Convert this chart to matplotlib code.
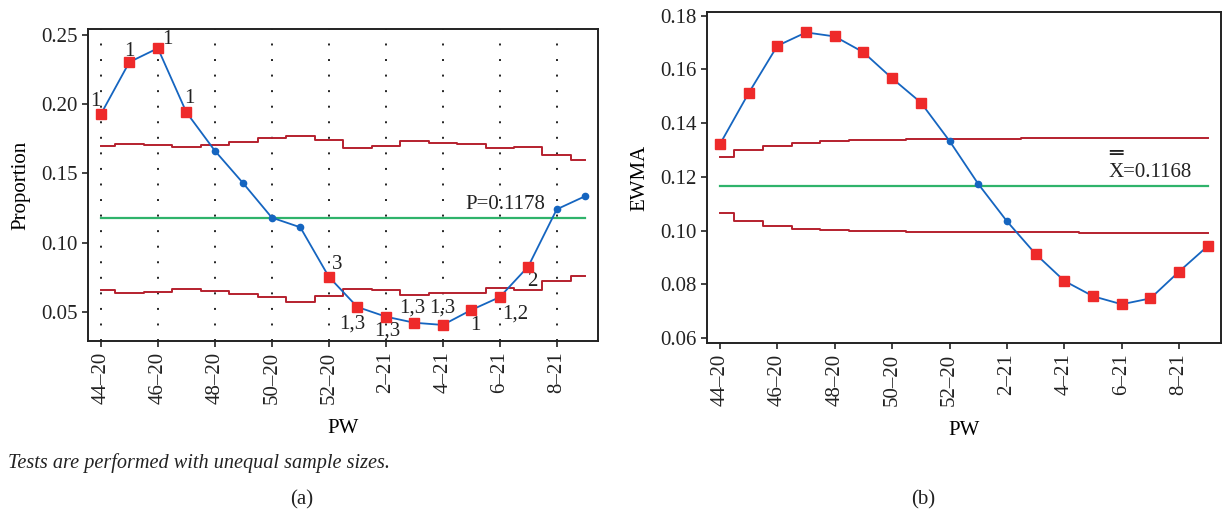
import numpy as np
import matplotlib.pyplot as plt

plt.rcParams['font.family'] = ['Liberation Serif', 'DejaVu Serif']

weeks = ['44-20', '45-20', '46-20', '47-20', '48-20', '49-20', '50-20', '51-20', '52-20',
         '1-21', '2-21', '3-21', '4-21', '5-21', '6-21', '7-21', '8-21', '9-21']
tick_labels = ['44\u201320', '46\u201320', '48\u201320', '50\u201320', '52\u201320',
               '2\u201321', '4\u201321', '6\u201321', '8\u201321']

# (a) P chart
prop = [0.1928, 0.2304, 0.2404, 0.1942, 0.1664, 0.1428, 0.1181, 0.1111, 0.0754,
        0.0536, 0.0466, 0.0422, 0.0406, 0.0514, 0.0607, 0.0828, 0.1241, 0.1336]
p_ucl = [0.1698, 0.1712, 0.1705, 0.1691, 0.1705, 0.1727, 0.1754, 0.1773, 0.1744,
         0.1683, 0.1698, 0.1734, 0.1720, 0.1710, 0.1683, 0.1691, 0.1635, 0.1596]
p_lcl = [0.0659, 0.0638, 0.0645, 0.0667, 0.0652, 0.0630, 0.0607, 0.0575, 0.0616,
         0.0664, 0.0657, 0.0623, 0.0635, 0.0635, 0.0676, 0.0659, 0.0722, 0.0763]
p_bar = 0.1178
p_tests = ['1', '1', '1', '1', '', '', '', '', '3',
           '1,3', '1,3', '1,3', '1,3', '1', '1,2', '2', '', '']
test_offsets = [(-6, 13), (0, 11), (10, 9), (3, 14), None, None, None, None, (8, 12),
                (-5, -17), (2, -14), (-2, 15), (0, 17), (4, -16), (15, -17), (4, -15), None, None]

# (b) EWMA chart
ewma = [0.1322, 0.1512, 0.1688, 0.1738, 0.1723, 0.1664, 0.1567, 0.1477, 0.1334,
        0.1174, 0.1035, 0.0913, 0.0813, 0.0756, 0.0726, 0.0748, 0.0848, 0.0943]
e_ucl = [0.1273, 0.1299, 0.1316, 0.1327, 0.1332, 0.1336, 0.1339, 0.1340, 0.1341,
         0.1341, 0.1341, 0.1344, 0.1344, 0.1344, 0.1344, 0.1344, 0.1344, 0.1344]
e_lcl = [0.1064, 0.1037, 0.1019, 0.1007, 0.1003, 0.1000, 0.0998, 0.0996, 0.0996,
         0.0996, 0.0996, 0.0996, 0.0996, 0.0992, 0.0992, 0.0992, 0.0992, 0.0992]
x_bar = 0.1168
e_flag = [1, 1, 1, 1, 1, 1, 1, 1, 0, 0, 0, 1, 1, 1, 1, 1, 1, 1]

blue = '#1565c0'
red = '#ee2a2a'
lim_col = '#b5202e'
green = '#2fb36b'
fs = 15

x = np.arange(len(weeks))
fig = plt.figure(figsize=(12.23, 5.17), dpi=100)
ax1 = fig.add_axes([0.0720, 0.3404, 0.4170, 0.6035])
ax2 = fig.add_axes([0.5781, 0.3366, 0.4203, 0.6402])

# --- (a)
for t in x[::2]:
    ax1.axvline(t, color='#222222', lw=1.4, ls=(0, (1, 7)), zorder=0)
ax1.step(x, p_ucl, where='mid', color=lim_col, lw=1.4)
ax1.step(x, p_lcl, where='mid', color=lim_col, lw=1.4)
ax1.plot([x[0], x[-1]], [p_bar, p_bar], color=green, lw=1.6)
ax1.plot(x, prop, color=blue, lw=1.3, zorder=3)
p_red = np.array([s != '' for s in p_tests])
prop_a = np.array(prop)
ax1.plot(x[~p_red], prop_a[~p_red], 'o', color=blue, ms=4.5, zorder=4)
ax1.plot(x[p_red], prop_a[p_red], 's', color=red, ms=7, zorder=4)
for i, s in enumerate(p_tests):
    if s:
        ax1.annotate(s, (x[i], prop[i]), xytext=test_offsets[i], textcoords='offset pixels',
                     ha='center', va='center', fontsize=fs, color='#222222')
ax1.text(15.58, p_bar + 0.003, 'P=%.4f' % p_bar, ha='right', va='bottom', fontsize=fs, color='#222222')
ax1.set_xlim(-0.45, 17.45)
ax1.set_ylim(0.029, 0.2543)
ax1.set_yticks([0.05, 0.10, 0.15, 0.20, 0.25])
ax1.set_yticklabels(['0.05', '0.10', '0.15', '0.20', '0.25'])
ax1.set_ylabel('Proportion', fontsize=fs, labelpad=8)

# --- (b)
ax2.step(x, e_ucl, where='mid', color=lim_col, lw=1.4)
ax2.step(x, e_lcl, where='mid', color=lim_col, lw=1.4)
ax2.plot([x[0], x[-1]], [x_bar, x_bar], color=green, lw=1.6)
ax2.plot(x, ewma, color=blue, lw=1.3, zorder=3)
e_red = np.array(e_flag) == 1
ewma_a = np.array(ewma)
ax2.plot(x[~e_red], ewma_a[~e_red], 'o', color=blue, ms=4.5, zorder=4)
ax2.plot(x[e_red], ewma_a[e_red], 's', color=red, ms=7, zorder=4)
ax2.text(13.55, x_bar + 0.0048, 'X=%.4f' % x_bar, ha='left', va='center', fontsize=fs, color='#222222')
# double bar over the X
ax2.annotate('\u2550', (13.55, x_bar + 0.0048), xytext=(0, 19), textcoords='offset pixels',
             ha='left', va='center', fontsize=16, family='DejaVu Sans', color='#222222')
ax2.set_xlim(-0.45, 17.46)
ax2.set_ylim(0.0582, 0.1814)
ax2.set_yticks([0.06, 0.08, 0.10, 0.12, 0.14, 0.16, 0.18])
ax2.set_yticklabels(['0.06', '0.08', '0.10', '0.12', '0.14', '0.16', '0.18'])
ax2.set_ylabel('EWMA', fontsize=fs, labelpad=8)

for ax in (ax1, ax2):
    ax.set_xticks(x[::2])
    ax.set_xticklabels(tick_labels, rotation=90)
    ax.set_xlabel('PW', fontsize=fs, labelpad=11)
    ax.tick_params(labelsize=fs, length=4, width=1.2, colors='#222222')
    for sp in ax.spines.values():
        sp.set_linewidth(1.4)
        sp.set_color('#222222')

fig.text(0.0065, 0.1044, 'Tests are performed with unequal sample sizes.', style='italic',
         fontsize=14.6, va='center', ha='left', color='#222222')
fig.text(0.247, 0.033, '(a)', fontsize=fs, ha='center', va='center', color='#222222')
fig.text(0.755, 0.033, '(b)', fontsize=fs, ha='center', va='center', color='#222222')

plt.savefig('out.png', dpi=100)
